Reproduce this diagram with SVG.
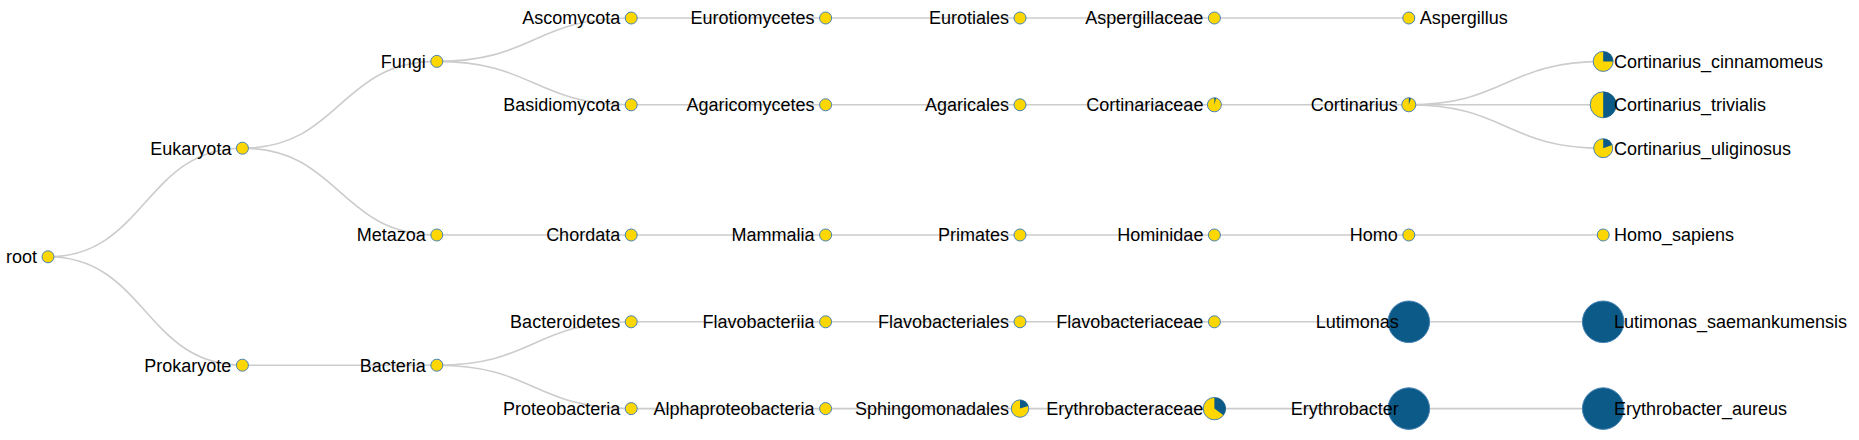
<svg xmlns="http://www.w3.org/2000/svg" width="1859" height="440" viewBox="0 0 1859 440">
<style>
.link{fill:none;stroke:#cccccc;stroke-width:1.6}
.nc{fill:#ffd700;stroke:#4682b4;stroke-width:1}
.bc{fill:#0c5a88;stroke:#4682b4;stroke-width:1}
.w{fill:#0c5a88;stroke:none}
text{font-family:"Liberation Sans",Arial,sans-serif;font-size:18px;fill:#000}
.l{text-anchor:end}
.r{text-anchor:start}
</style>
<rect width="1859" height="440" fill="#ffffff"/>
<g id="connectors">
<path class="link" d="M48,256.8C145.2,256.8 145.2,148.2 242.4,148.2"/>
<path class="link" d="M48,256.8C145.2,256.8 145.2,365.2 242.4,365.2"/>
<path class="link" d="M242.4,148.2C339.6,148.2 339.6,61.4 436.8,61.4"/>
<path class="link" d="M242.4,148.2C339.6,148.2 339.6,235 436.8,235"/>
<path class="link" d="M436.8,61.4C534,61.4 534,18 631.2,18"/>
<path class="link" d="M436.8,61.4C534,61.4 534,104.8 631.2,104.8"/>
<path class="link" d="M631.2,18H1408.8"/>
<path class="link" d="M631.2,104.8H1408.8"/>
<path class="link" d="M1408.8,104.8C1506,104.8 1506,61.4 1603.2,61.4"/>
<path class="link" d="M1408.8,104.8H1603.2"/>
<path class="link" d="M1408.8,104.8C1506,104.8 1506,148.2 1603.2,148.2"/>
<path class="link" d="M436.8,235H1603.2"/>
<path class="link" d="M242.4,365.2H436.8"/>
<path class="link" d="M436.8,365.2C534,365.2 534,321.8 631.2,321.8"/>
<path class="link" d="M436.8,365.2C534,365.2 534,408.6 631.2,408.6"/>
<path class="link" d="M631.2,321.8H1603.2"/>
<path class="link" d="M631.2,408.6H1603.2"/>
</g>
<g id="n-root"><circle class="nc" cx="48" cy="256.8" r="6"/><text class="l" x="37" y="256.8" dy="0.35em">root</text></g>
<g id="n-eukaryota"><circle class="nc" cx="242.4" cy="148.2" r="6"/><text class="l" x="231.4" y="148.2" dy="0.35em">Eukaryota</text></g>
<g id="n-prokaryote"><circle class="nc" cx="242.4" cy="365.2" r="6"/><text class="l" x="231.4" y="365.2" dy="0.35em">Prokaryote</text></g>
<g id="n-fungi"><circle class="nc" cx="436.8" cy="61.4" r="6"/><text class="l" x="425.8" y="61.4" dy="0.35em">Fungi</text></g>
<g id="n-metazoa"><circle class="nc" cx="436.8" cy="235" r="6"/><text class="l" x="425.8" y="235" dy="0.35em">Metazoa</text></g>
<g id="n-bacteria"><circle class="nc" cx="436.8" cy="365.2" r="6"/><text class="l" x="425.8" y="365.2" dy="0.35em">Bacteria</text></g>
<g id="n-ascomycota"><circle class="nc" cx="631.2" cy="18" r="6"/><text class="l" x="620.2" y="18" dy="0.35em">Ascomycota</text></g>
<g id="n-basidiomycota"><circle class="nc" cx="631.2" cy="104.8" r="6"/><text class="l" x="620.2" y="104.8" dy="0.35em">Basidiomycota</text></g>
<g id="n-chordata"><circle class="nc" cx="631.2" cy="235" r="6"/><text class="l" x="620.2" y="235" dy="0.35em">Chordata</text></g>
<g id="n-bacteroidetes"><circle class="nc" cx="631.2" cy="321.8" r="6"/><text class="l" x="620.2" y="321.8" dy="0.35em">Bacteroidetes</text></g>
<g id="n-proteobacteria"><circle class="nc" cx="631.2" cy="408.6" r="6"/><text class="l" x="620.2" y="408.6" dy="0.35em">Proteobacteria</text></g>
<g id="n-eurotiomycetes"><circle class="nc" cx="825.6" cy="18" r="6"/><text class="l" x="814.6" y="18" dy="0.35em">Eurotiomycetes</text></g>
<g id="n-agaricomycetes"><circle class="nc" cx="825.6" cy="104.8" r="6"/><text class="l" x="814.6" y="104.8" dy="0.35em">Agaricomycetes</text></g>
<g id="n-mammalia"><circle class="nc" cx="825.6" cy="235" r="6"/><text class="l" x="814.6" y="235" dy="0.35em">Mammalia</text></g>
<g id="n-flavobacteriia"><circle class="nc" cx="825.6" cy="321.8" r="6"/><text class="l" x="814.6" y="321.8" dy="0.35em">Flavobacteriia</text></g>
<g id="n-alphaproteobacteria"><circle class="nc" cx="825.6" cy="408.6" r="6"/><text class="l" x="814.6" y="408.6" dy="0.35em">Alphaproteobacteria</text></g>
<g id="n-eurotiales"><circle class="nc" cx="1020" cy="18" r="6"/><text class="l" x="1009" y="18" dy="0.35em">Eurotiales</text></g>
<g id="n-agaricales"><circle class="nc" cx="1020" cy="104.8" r="6"/><text class="l" x="1009" y="104.8" dy="0.35em">Agaricales</text></g>
<g id="n-primates"><circle class="nc" cx="1020" cy="235" r="6"/><text class="l" x="1009" y="235" dy="0.35em">Primates</text></g>
<g id="n-flavobacteriales"><circle class="nc" cx="1020" cy="321.8" r="6"/><text class="l" x="1009" y="321.8" dy="0.35em">Flavobacteriales</text></g>
<g id="n-sphingomonadales"><circle class="nc" cx="1020" cy="408.6" r="8.7"/><path class="w" d="M1020,408.6L1020,399.9A8.7,8.7 0 0 1 1028.27,405.91Z"/><text class="l" x="1009" y="408.6" dy="0.35em">Sphingomonadales</text></g>
<g id="n-aspergillaceae"><circle class="nc" cx="1214.4" cy="18" r="6"/><text class="l" x="1203.4" y="18" dy="0.35em">Aspergillaceae</text></g>
<g id="n-cortinariaceae"><circle class="nc" cx="1214.4" cy="104.8" r="7"/><path class="w" d="M1214.4,104.8L1214.4,97.8A7,7 0 0 1 1216.14,98.02Z"/><text class="l" x="1203.4" y="104.8" dy="0.35em">Cortinariaceae</text></g>
<g id="n-hominidae"><circle class="nc" cx="1214.4" cy="235" r="6"/><text class="l" x="1203.4" y="235" dy="0.35em">Hominidae</text></g>
<g id="n-flavobacteriaceae"><circle class="nc" cx="1214.4" cy="321.8" r="6"/><text class="l" x="1203.4" y="321.8" dy="0.35em">Flavobacteriaceae</text></g>
<g id="n-erythrobacteraceae"><circle class="nc" cx="1214.4" cy="408.6" r="11.2"/><path class="w" d="M1214.4,408.6L1214.4,397.4A11.2,11.2 0 0 1 1223.46,415.19Z"/><text class="l" x="1203.4" y="408.6" dy="0.35em">Erythrobacteraceae</text></g>
<g id="n-aspergillus"><circle class="nc" cx="1408.8" cy="18" r="6"/><text class="r" x="1419.8" y="18" dy="0.35em">Aspergillus</text></g>
<g id="n-cortinarius"><circle class="nc" cx="1408.8" cy="104.8" r="7"/><path class="w" d="M1408.8,104.8L1408.8,97.8A7,7 0 0 1 1410.96,98.14Z"/><text class="l" x="1397.8" y="104.8" dy="0.35em">Cortinarius</text></g>
<g id="n-homo"><circle class="nc" cx="1408.8" cy="235" r="6"/><text class="l" x="1397.8" y="235" dy="0.35em">Homo</text></g>
<g id="n-lutimonas"><circle class="bc" cx="1408.8" cy="321.8" r="20.8"/><text class="l" x="1398.8" y="321.8" dy="0.35em">Lutimonas</text></g>
<g id="n-erythrobacter"><circle class="bc" cx="1408.8" cy="408.6" r="20.8"/><text class="l" x="1398.8" y="408.6" dy="0.35em">Erythrobacter</text></g>
<g id="n-cortinarius-cinnamomeus"><circle class="nc" cx="1603.2" cy="61.4" r="10"/><path class="w" d="M1603.2,61.4L1603.2,51.4A10,10 0 0 1 1613.2,61.4Z"/><text class="r" x="1614" y="61.4" dy="0.35em">Cortinarius_cinnamomeus</text></g>
<g id="n-cortinarius-trivialis"><circle class="nc" cx="1603.2" cy="104.8" r="13"/><path class="w" d="M1603.2,104.8L1603.2,91.8A13,13 0 0 1 1603.2,117.8Z"/><text class="r" x="1614" y="104.8" dy="0.35em">Cortinarius_trivialis</text></g>
<g id="n-cortinarius-uliginosus"><circle class="nc" cx="1603.2" cy="148.2" r="9.5"/><path class="w" d="M1603.2,148.2L1603.2,138.7A9.5,9.5 0 0 1 1612.13,144.95Z"/><text class="r" x="1614" y="148.2" dy="0.35em">Cortinarius_uliginosus</text></g>
<g id="n-homo-sapiens"><circle class="nc" cx="1603.2" cy="235" r="6"/><text class="r" x="1614" y="235" dy="0.35em">Homo_sapiens</text></g>
<g id="n-lutimonas-saemankumensis"><circle class="bc" cx="1603.2" cy="321.8" r="20.8"/><text class="r" x="1614" y="321.8" dy="0.35em">Lutimonas_saemankumensis</text></g>
<g id="n-erythrobacter-aureus"><circle class="bc" cx="1603.2" cy="408.6" r="20.8"/><text class="r" x="1614" y="408.6" dy="0.35em">Erythrobacter_aureus</text></g>
</svg>
